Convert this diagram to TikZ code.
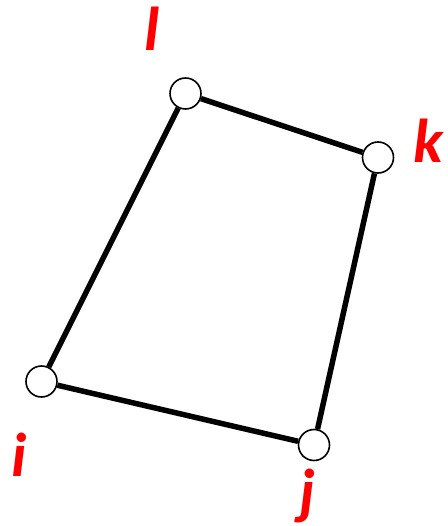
\documentclass[tikz,border=0pt]{standalone}
\usepackage{fontspec}
\setmainfont{Carlito}
\usetikzlibrary{positioning}
\definecolor{qdRed}{RGB}{255,0,0}

\begin{document}
\begin{tikzpicture}[x=1pt, y=-1pt,
    vertex/.style={circle, draw=black, line width=1.6pt, fill=white, minimum size=31pt, inner sep=0pt},
    edge/.style={line width=5.5pt, black},
    lbl/.style={anchor=base, text=qdRed, font=\fontsize{62}{64}\selectfont\bfseries\itshape, inner sep=0pt}]
  \useasboundingbox (0,0) rectangle (447,526);

  % Vertices
  \node[vertex] (l) at (185.5,93.5) {};
  \node[vertex] (k) at (378,157.5) {};
  \node[vertex] (i) at (41.5,381.5) {};
  \node[vertex] (j) at (314,445) {};

  % Edges
  \draw[edge] (i) -- (l);
  \draw[edge] (l) -- (k);
  \draw[edge] (k) -- (j);
  \draw[edge] (j) -- (i);

  % Labels
  \node[lbl] (ll) at (152,51) {l};
  \node[lbl] (lk) at (428,163) {k};
  \node[lbl] (li) at (19.5,476) {i};
  \node[lbl] (lj) at (307,512) {j};
\end{tikzpicture}
\end{document}
